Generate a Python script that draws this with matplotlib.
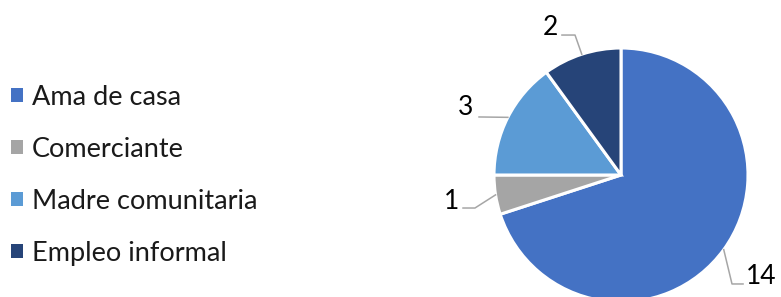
import numpy as np
import matplotlib.pyplot as plt
from matplotlib.patches import Patch

categories = ["Ama de casa", "Comerciante", "Madre comunitaria", "Empleo informal"]
values = [14, 1, 3, 2]
colors = ["#4472C4", "#A5A5A5", "#5B9BD5", "#264478"]

plt.rcParams['font.family'] = ['Lato', 'DejaVu Sans']

W, H = 781, 297
fig = plt.figure(figsize=(W / 100, H / 100), dpi=100)

# pie centre and radius in pixels
cx, cy, r = 621, 175, 127
ax = fig.add_axes([(cx - r) / W, (H - cy - r) / H, 2 * r / W, 2 * r / H])
wedges, _ = ax.pie(values, colors=colors, startangle=90, counterclock=False, radius=1,
                   wedgeprops=dict(edgecolor="white", linewidth=2.2))
ax.set_xlim(-1, 1)
ax.set_ylim(-1, 1)
ax.set_aspect("equal")
ax.axis("off")

# leader line elbows / ends and label anchors (axes units, radius = 1)
leaders = [
    [(0.874, -0.858), (0.961, -0.858)],
    [(-1.150, -0.26), (-1.244, -0.26)],
    [(-1.118, 0.457)],
    [(-0.362, 1.102), (-0.465, 1.102)],
]
label_pos = [(0.985, -0.80, "left"), (-1.275, -0.21, "right"),
             (-1.160, 0.53, "right"), (-0.497, 1.16, "right")]

for w, v, pts, (tx, ty, ha) in zip(wedges, values, leaders, label_pos):
    mid = np.deg2rad((w.theta1 + w.theta2) / 2)
    xs = [np.cos(mid)] + [p[0] for p in pts]
    ys = [np.sin(mid)] + [p[1] for p in pts]
    ax.plot(xs, ys, color="#A6A6A6", lw=1.1, clip_on=False)
    ax.text(tx, ty, str(v), ha=ha, va="center", fontsize=19, color="black", clip_on=False)

handles = [Patch(facecolor=c, edgecolor="none") for c in colors]
fig.legend(handles, categories, loc="center left", bbox_to_anchor=(0.0, 0.41),
           frameon=False, handlelength=0.44, handleheight=0.44,
           handletextpad=0.33, labelspacing=1.0, borderpad=0, borderaxespad=0.42,
           prop=dict(size=19.5), labelcolor="#1a1a1a")

fig.savefig("out.png", dpi=100)
